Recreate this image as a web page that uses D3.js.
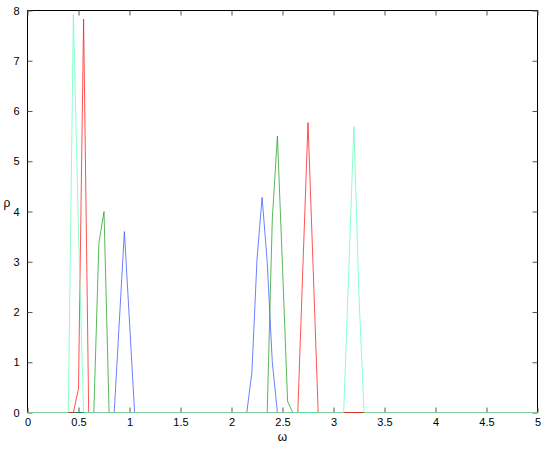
<!DOCTYPE html>
<html>
<head>
<meta charset="utf-8">
<script src="https://cdn.jsdelivr.net/npm/d3@7"></script>
<style>
  html, body { margin: 0; padding: 0; background: #fff; }
  svg text { font-family: "Liberation Sans", Arial, sans-serif; }
</style>
</head>
<body>
<div id="chart"></div>
<script>
const W = 545, H = 459;
const LEFT = 27.5, RIGHT = 537.5, TOP = 10.5, BOTTOM = 412.5;

// series: omega / rho pairs
const blueW  = [0, 0.85, 0.90, 0.95, 1.00, 1.05, 2.15, 2.20, 2.25, 2.30, 2.35, 2.40, 2.45, 5];
const blueR  = [0, 0,    1.8,  3.6,  1.8,  0,    0,    0.8,  3.05, 4.28, 3.0,  1.0,  0,    0];
const greenW = [0, 0.65, 0.70, 0.75, 0.80, 2.35, 2.40, 2.45, 2.50, 2.55, 2.60, 5];
const greenR = [0, 0,    3.37, 4.0,  0,    0,    3.85, 5.5,  2.9,  0.22, 0,    0];
const redW   = [0, 0.45, 0.50, 0.55, 0.60, 2.65, 2.70, 2.75, 2.80, 2.85, 5];
const redR   = [0, 0,    0.48, 7.83, 0,    0,    2.9,  5.77, 2.9,  0,    0];
const cyanW  = [0, 0.40, 0.45, 0.50, 0.55, 3.10, 3.15, 3.20, 3.25, 3.30, 5];
const cyanR  = [0, 0,    7.92, 3.6,  0,    0,    2.85, 5.69, 2.3,  0,    0];

const xTicks = [0, 0.5, 1, 1.5, 2, 2.5, 3, 3.5, 4, 4.5, 5];
const yTicks = [0, 1, 2, 3, 4, 5, 6, 7, 8];

const series = [
  { w: blueW,  r: blueR,  color: '#3a55ff' },
  { w: greenW, r: greenR, color: '#22a022' },
  { w: redW,   r: redR,   color: '#ff1a1a' },
  { w: cyanW,  r: cyanR,  color: '#66ffbb' }
];

const x = d3.scaleLinear().domain([0, 5]).range([LEFT, RIGHT]);
const y = d3.scaleLinear().domain([0, 8]).range([BOTTOM, TOP]);

const svg = d3.select('#chart').append('svg')
  .attr('width', W).attr('height', H);

// frame
svg.append('rect')
  .attr('x', LEFT).attr('y', TOP)
  .attr('width', RIGHT - LEFT).attr('height', BOTTOM - TOP)
  .attr('fill', 'none').attr('stroke', '#000').attr('stroke-width', 1);

function styleAxis(g) {
  g.select('.domain').remove();
  g.selectAll('.tick line').attr('stroke', '#555');
  g.selectAll('.tick text').attr('fill', '#000').attr('font-size', 11);
}

// axes, ticks pointing inward
svg.append('g')
  .attr('transform', `translate(0,${BOTTOM})`)
  .call(d3.axisBottom(x).tickValues(xTicks).tickFormat(d3.format('')).tickSizeInner(-5).tickSizeOuter(0).tickPadding(6))
  .call(styleAxis);

svg.append('g')
  .attr('transform', `translate(0,${TOP})`)
  .call(d3.axisTop(x).tickValues(xTicks).tickFormat('').tickSizeInner(-5).tickSizeOuter(0))
  .call(styleAxis);

svg.append('g')
  .attr('transform', `translate(${LEFT},0)`)
  .call(d3.axisLeft(y).tickValues(yTicks).tickSizeInner(-5).tickSizeOuter(0).tickPadding(8))
  .call(styleAxis);

svg.append('g')
  .attr('transform', `translate(${RIGHT},0)`)
  .call(d3.axisRight(y).tickValues(yTicks).tickFormat('').tickSizeInner(-5).tickSizeOuter(0))
  .call(styleAxis);

// lines, slightly see-through so the baseline blends with the frame
const line = d3.line().x(d => x(d[0])).y(d => y(d[1]));
series.forEach(s => {
  svg.append('path')
    .datum(s.w.map((w, i) => [w, s.r[i]]))
    .attr('d', line)
    .attr('fill', 'none')
    .attr('stroke', s.color)
    .attr('stroke-opacity', 0.75)
    .attr('stroke-width', 1);
});

// axis labels
svg.append('text')
  .attr('x', x(2.5)).attr('y', 441)
  .attr('text-anchor', 'middle')
  .attr('font-size', 12)
  .text('ω');

svg.append('text')
  .attr('x', 7).attr('y', 207)
  .attr('text-anchor', 'middle')
  .attr('font-size', 12)
  .text('ρ');
</script>
</body>
</html>
